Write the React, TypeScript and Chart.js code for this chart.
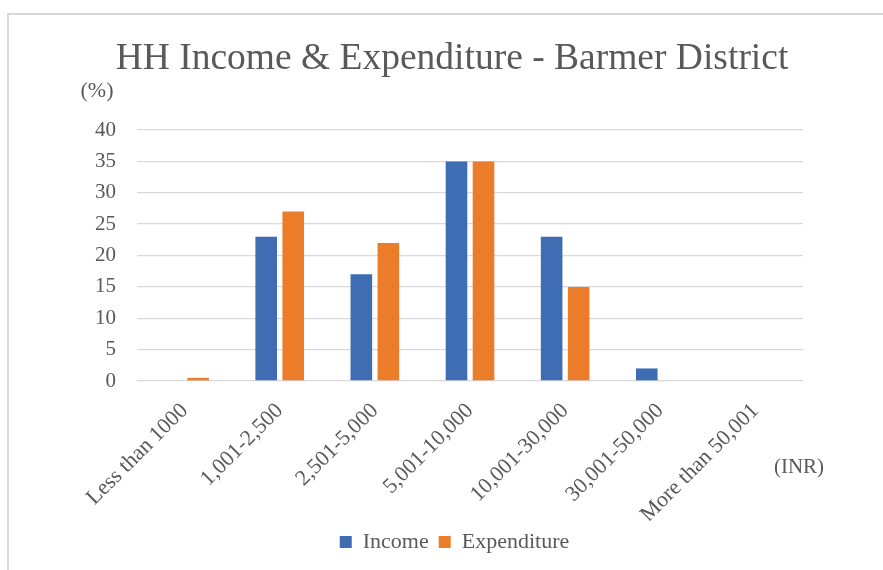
import React, { useEffect, useRef } from "react";
import { Chart, registerables } from "chart.js";

Chart.register(...registerables);

// Monthly household income / expenditure bands (INR)
const categories = [
  "Less than 1000",
  "1,001-2,500",
  "2,501-5,000",
  "5,001-10,000",
  "10,001-30,000",
  "30,001-50,000",
  "More than 50,001",
];

// Share of households in each band (%)
const incomeValues = [0, 23, 17, 35, 23, 2, 0];
const expenditureValues = [0.5, 27, 22, 35, 15, 0, 0];

const seriesNames = ["Income", "Expenditure"];
const seriesColors = ["#3F6DB4", "#EB7C29"];

const chartTitle = "HH Income & Expenditure - Barmer District";
const yUnitLabel = "(%)";
const xUnitLabel = "(INR)";

const yMin = 0;
const yMax = 40;
const yStep = 5;

const SERIF = "'Liberation Serif', 'Times New Roman', serif";
const TEXT = "#595959";
const GRID = "#D9D9D9";

// Draws the heading and the unit captions beside the axes
const captionsPlugin = {
  id: "captions",
  afterDraw(chart: Chart) {
    const { ctx, chartArea } = chart;
    ctx.save();
    ctx.fillStyle = TEXT;
    ctx.textBaseline = "alphabetic";

    ctx.font = `37.5px ${SERIF}`;
    ctx.textAlign = "center";
    ctx.fillText(chartTitle, 452, 69);

    ctx.font = `22px ${SERIF}`;
    ctx.textAlign = "center";
    ctx.fillText(yUnitLabel, 97, 97);

    ctx.font = `21px ${SERIF}`;
    ctx.textAlign = "center";
    ctx.fillText(xUnitLabel, chartArea.right - 4, 473);
    ctx.restore();
  },
};

export default function App() {
  const canvasRef = useRef<HTMLCanvasElement | null>(null);

  useEffect(() => {
    const canvas = canvasRef.current;
    if (!canvas) return;

    const chart = new Chart(canvas, {
      type: "bar",
      data: {
        labels: categories,
        datasets: [
          {
            label: seriesNames[0],
            data: incomeValues,
            backgroundColor: seriesColors[0],
            categoryPercentage: 0.568,
            barPercentage: 0.8,
          },
          {
            label: seriesNames[1],
            data: expenditureValues,
            backgroundColor: seriesColors[1],
            categoryPercentage: 0.568,
            barPercentage: 0.8,
          },
        ],
      },
      options: {
        responsive: false,
        animation: false,
        layout: {
          padding: { left: 28, right: 2, top: 130, bottom: 7 },
        },
        plugins: {
          title: { display: false },
          tooltip: { enabled: false },
          legend: {
            display: true,
            position: "bottom",
            labels: {
              color: TEXT,
              font: { family: SERIF, size: 22 },
              boxWidth: 12,
              boxHeight: 12,
              padding: 10,
            },
          },
        },
        scales: {
          x: {
            grid: { display: false, drawTicks: false },
            border: { display: false },
            ticks: {
              color: TEXT,
              font: { family: SERIF, size: 22 },
              minRotation: 45,
              maxRotation: 45,
              autoSkip: false,
              padding: 17,
            },
            afterFit(scale: any) {
              scale.height = 140;
            },
          },
          y: {
            min: yMin,
            max: yMax,
            grid: { color: GRID, lineWidth: 1.3, drawTicks: false },
            border: { display: false },
            ticks: {
              stepSize: yStep,
              color: TEXT,
              font: { family: SERIF, size: 21 },
              padding: 21,
            },
            afterFit(scale: any) {
              scale.width = 109;
            },
          },
          // empty right-hand gutter that leaves room for the (INR) caption
          gutter: {
            type: "linear",
            position: "right",
            display: true,
            grid: { display: false, drawTicks: false },
            border: { display: false },
            ticks: { display: false },
            afterFit(scale: any) {
              scale.width = 78;
            },
          },
        },
      },
      plugins: [captionsPlugin],
    });

    return () => chart.destroy();
  }, []);

  return (
    <div
      style={{
        position: "fixed",
        left: 0,
        top: 0,
        width: 883,
        height: 570,
        background: "#ffffff",
        overflow: "hidden",
      }}
    >
      <div
        style={{
          position: "absolute",
          left: 7,
          top: 13,
          width: 900,
          height: 600,
          borderTop: `2px solid ${GRID}`,
          borderLeft: `2px solid ${GRID}`,
        }}
      />
      <canvas
        ref={canvasRef}
        width={883}
        height={570}
        style={{ position: "absolute", left: 0, top: 0 }}
      />
    </div>
  );
}
